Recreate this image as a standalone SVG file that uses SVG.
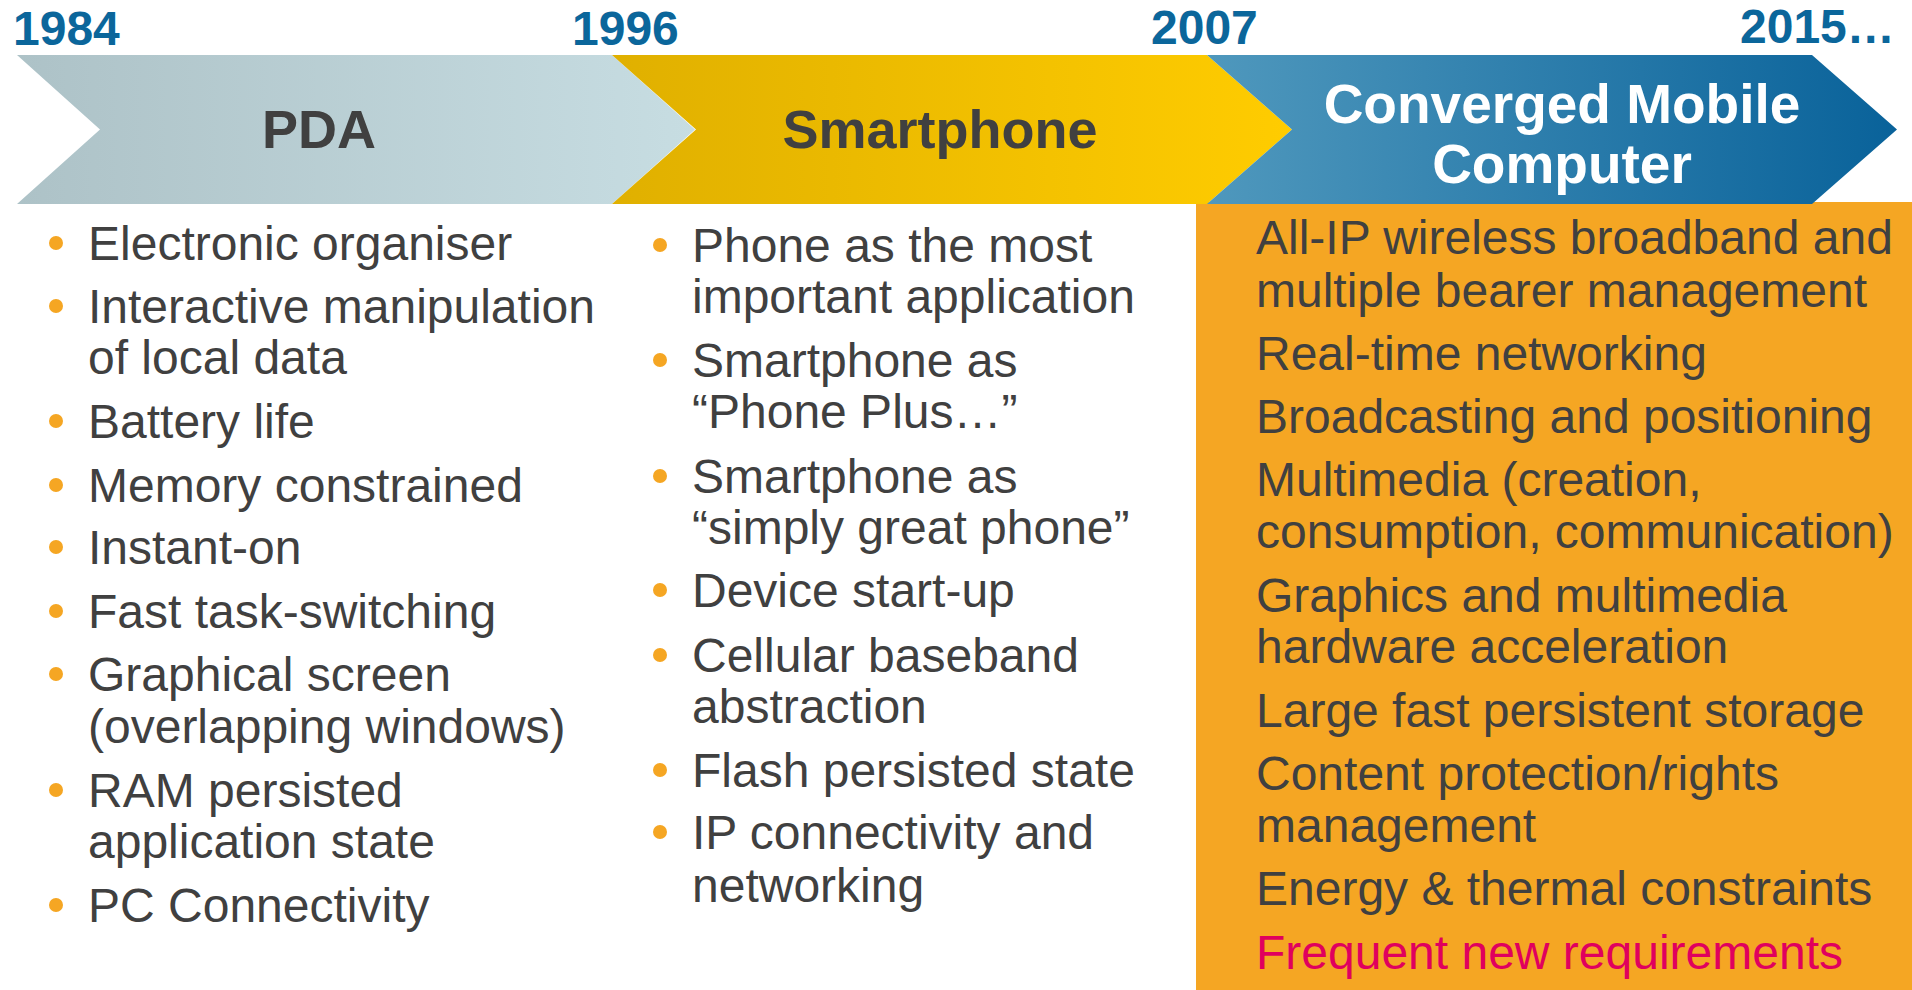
<svg xmlns="http://www.w3.org/2000/svg" width="1912" height="990" viewBox="0 0 1912 990">
<defs>
<linearGradient id="gGrey" x1="0" y1="0" x2="1" y2="0">
<stop offset="0" stop-color="#adc2c7"/><stop offset="1" stop-color="#c7dde2"/>
</linearGradient>
<linearGradient id="gYellow" x1="0" y1="0" x2="1" y2="0">
<stop offset="0" stop-color="#e0b000"/><stop offset="1" stop-color="#ffcc00"/>
</linearGradient>
<linearGradient id="gBlue" x1="0" y1="0" x2="1" y2="0">
<stop offset="0" stop-color="#4f98bd"/><stop offset="1" stop-color="#09629a"/>
</linearGradient>
<style>
.year{font-family:"Liberation Sans",Arial,sans-serif;font-weight:bold;font-size:48px;fill:#0b669b}
.title{font-family:"Liberation Sans",Arial,sans-serif;font-weight:bold;font-size:54px;text-anchor:middle}
.big{font-size:55px}
.item{font-family:"Liberation Sans",Arial,sans-serif;font-size:48px;fill:#404040}
.red{fill:#e0005e}
.bul{fill:#f5a623}
</style>
</defs>
<rect width="1912" height="990" fill="#ffffff"/>
<g id="years">
<text class="year" x="13" y="45">1984</text>
<text class="year" x="572" y="45">1996</text>
<text class="year" x="1151" y="44">2007</text>
<text class="year" x="1740" y="43">2015…</text>
</g>
<rect id="orange-panel" x="1196" y="202" width="716" height="788" fill="#f5a623"/>
<g id="pda">
<polygon points="17,55 612,55 695,129.5 612,204 17,204 100,129.5" fill="url(#gGrey)"/>
<text class="title" x="319" y="148" fill="#404040">PDA</text>
</g>
<g id="smartphone">
<polygon points="612,55 1207,55 1292,129.5 1207,204 612,204 696,129.5" fill="url(#gYellow)"/>
<text class="title" x="940" y="148" fill="#404040">Smartphone</text>
</g>
<g id="converged">
<polygon points="1207,55 1812,55 1897,129.5 1812,204 1207,204 1292,129.5" fill="url(#gBlue)"/>
<text class="title big" x="1562" y="123" fill="#ffffff">Converged Mobile</text>
<text class="title big" x="1562" y="183" fill="#ffffff">Computer</text>
</g>
<g id="pda-list">
<circle class="bul" cx="56" cy="243" r="7"/><text class="item" x="88" y="260">Electronic organiser</text>
<circle class="bul" cx="56" cy="306" r="7"/><text class="item" x="88" y="323">Interactive manipulation</text>
<text class="item" x="88" y="374">of local data</text>
<circle class="bul" cx="56" cy="421" r="7"/><text class="item" x="88" y="438">Battery life</text>
<circle class="bul" cx="56" cy="485" r="7"/><text class="item" x="88" y="502">Memory constrained</text>
<circle class="bul" cx="56" cy="547" r="7"/><text class="item" x="88" y="564">Instant-on</text>
<circle class="bul" cx="56" cy="611" r="7"/><text class="item" x="88" y="628">Fast task-switching</text>
<circle class="bul" cx="56" cy="674" r="7"/><text class="item" x="88" y="691">Graphical screen</text>
<text class="item" x="88" y="743">(overlapping windows)</text>
<circle class="bul" cx="56" cy="790" r="7"/><text class="item" x="88" y="807">RAM persisted</text>
<text class="item" x="88" y="858">application state</text>
<circle class="bul" cx="56" cy="905" r="7"/><text class="item" x="88" y="922">PC Connectivity</text>
</g>
<g id="smartphone-list">
<circle class="bul" cx="660" cy="245" r="7"/><text class="item" x="692" y="262">Phone as the most</text>
<text class="item" x="692" y="313">important application</text>
<circle class="bul" cx="660" cy="360" r="7"/><text class="item" x="692" y="377">Smartphone as</text>
<text class="item" x="692" y="428">“Phone Plus…”</text>
<circle class="bul" cx="660" cy="476" r="7"/><text class="item" x="692" y="493">Smartphone as</text>
<text class="item" x="692" y="544">“simply great phone”</text>
<circle class="bul" cx="660" cy="590" r="7"/><text class="item" x="692" y="607">Device start-up</text>
<circle class="bul" cx="660" cy="655" r="7"/><text class="item" x="692" y="672">Cellular baseband</text>
<text class="item" x="692" y="723">abstraction</text>
<circle class="bul" cx="660" cy="770" r="7"/><text class="item" x="692" y="787">Flash persisted state</text>
<circle class="bul" cx="660" cy="832" r="7"/><text class="item" x="692" y="849">IP connectivity and</text>
<text class="item" x="692" y="902">networking</text>
</g>
<g id="converged-list">
<text class="item" x="1256" y="254">All-IP wireless broadband and</text>
<text class="item" x="1256" y="307">multiple bearer management</text>
<text class="item" x="1256" y="370">Real-time networking</text>
<text class="item" x="1256" y="433">Broadcasting and positioning</text>
<text class="item" x="1256" y="496">Multimedia (creation,</text>
<text class="item" x="1256" y="548">consumption, communication)</text>
<text class="item" x="1256" y="612">Graphics and multimedia</text>
<text class="item" x="1256" y="663">hardware acceleration</text>
<text class="item" x="1256" y="727">Large fast persistent storage</text>
<text class="item" x="1256" y="790">Content protection/rights</text>
<text class="item" x="1256" y="842">management</text>
<text class="item" x="1256" y="905">Energy &amp; thermal constraints</text>
<text class="item red" x="1256" y="969">Frequent new requirements</text>
</g>
</svg>
